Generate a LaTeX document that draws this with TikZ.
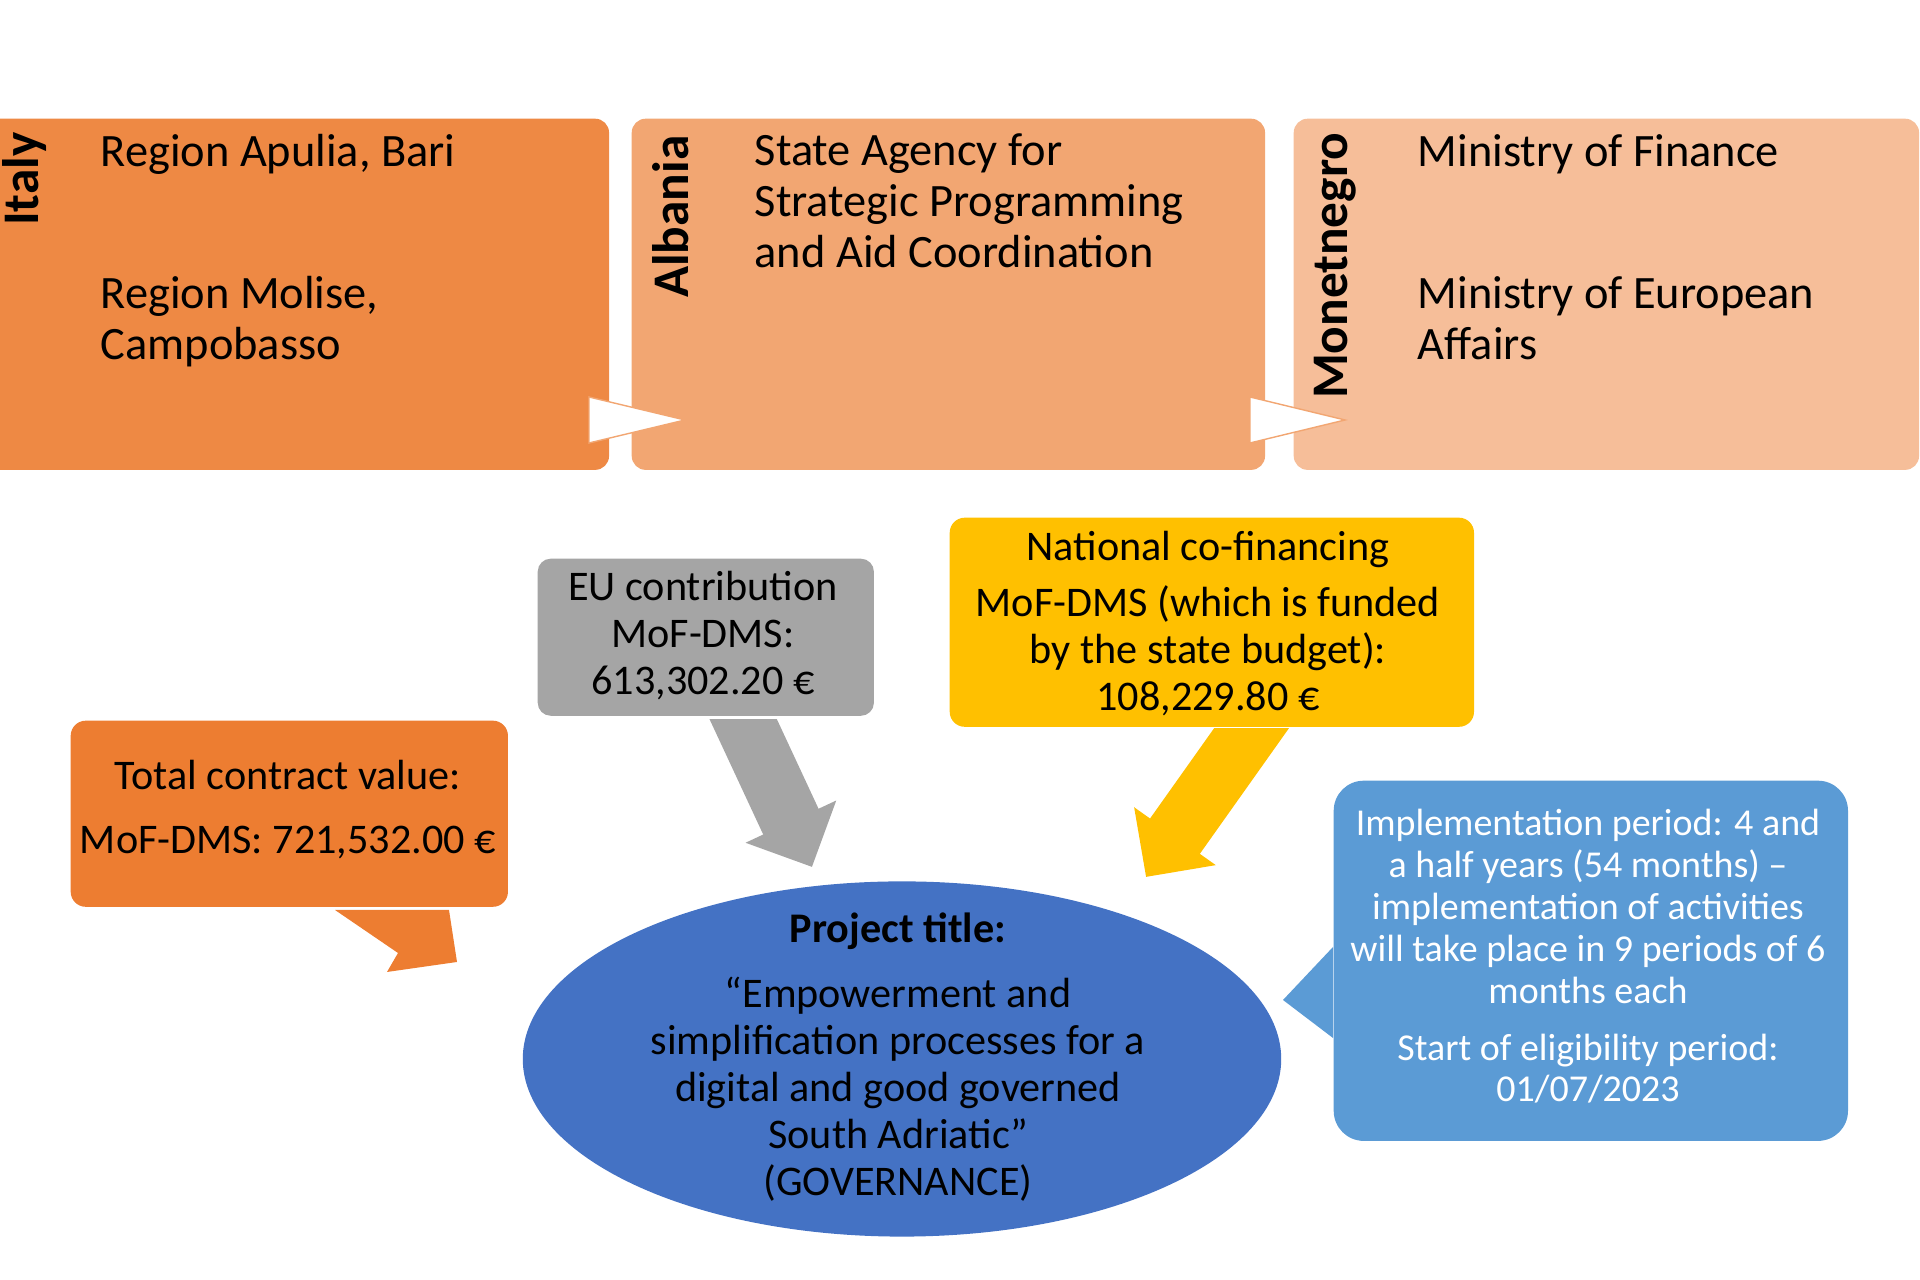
\documentclass[tikz,border=0pt]{standalone}
\usepackage{fontspec}
\setmainfont{Carlito}
\usetikzlibrary{arrows.meta,shapes.geometric}
\definecolor{italyc}{HTML}{EE8944}
\definecolor{albc}{HTML}{F2A672}
\definecolor{monc}{HTML}{F6BE99}
\definecolor{totalc}{HTML}{ED7D31}
\definecolor{grayc}{HTML}{A5A5A5}
\definecolor{yelc}{HTML}{FFC000}
\definecolor{ellc}{HTML}{4472C4}
\definecolor{bluec}{HTML}{5B9BD5}
\tikzset{
  panel/.style={rounded corners=0.14cm, minimum height=3.51cm, inner sep=0pt, anchor=north west},
  boxtxt/.style={inner sep=0pt, anchor=base west, align=left, font=\fontsize{13.2}{14.5}\selectfont},
  vlabel/.style={rotate=90, anchor=base east, inner sep=0pt, font=\fontsize{14.6}{17}\selectfont\bfseries},
  ctr/.style={inner sep=0pt, anchor=base, align=center, font=\fontsize{12}{13.4}\selectfont},
  flowtri/.style={fill=white, draw=albc, line width=0.4pt},
  blockarrow/.style={line width=0.61cm, -{Triangle[length=0.5cm, width=0.97cm]}},
}
\begin{document}
\begin{tikzpicture}[x=0.01cm, y=-0.01cm]
\useasboundingbox (0,0) rectangle (1920,1280);
% top panels
\node[panel, fill=italyc, minimum width=6.28cm] (italy) at (-20,118) {};
\node[panel, fill=albc, minimum width=6.33cm] (albania) at (631,118) {};
\node[panel, fill=monc, minimum width=6.25cm] (monte) at (1293,118) {};
\filldraw[flowtri] (589,397) -- (685,420) -- (589,443) -- cycle;
\filldraw[flowtri] (1250,397) -- (1345,420) -- (1250,443) -- cycle;
\node[vlabel] (litaly) at (38,132) {Italy};
\node[vlabel] (lalb) at (688,135) {Albania};
\node[vlabel] (lmon) at (1347,132) {Monetnegro};
% multi-line nodes: base anchor = baseline of last line
\node[boxtxt] (t1) at (100,167) {Region Apulia, Bari};
\node[boxtxt] (t2) at (100,360) {Region Molise,\\Campobasso};
\node[boxtxt] (t3) at (754,268) {State Agency for\\Strategic Programming\\and Aid Coordination};
\node[boxtxt] (t4) at (1417,167) {Ministry of Finance};
\node[boxtxt] (t5) at (1417,360) {Ministry of European\\Affairs};
% block arrows
\coordinate (gs) at (731,693);
\coordinate (gt) at (812,867);
\coordinate (ys) at (1268,705);
\coordinate (yt) at (1146,877);
\begin{scope}
\clip (0,720) rectangle (1920,1280);
\draw[blockarrow, draw=grayc, fill=grayc] (gs) -- (gt);
\end{scope}
\begin{scope}
\clip (0,729) rectangle (1920,1280);
\draw[blockarrow, draw=yelc, fill=yelc] (ys) -- (yt);
\end{scope}
% lower boxes
\node[fill=totalc, rounded corners=0.15cm, minimum width=4.37cm, minimum height=1.86cm, inner sep=0pt, anchor=north west] (total) at (70,720) {};
\fill[totalc] (335,910) -- (449,910) -- (457,962) -- (387,972) -- (398,953) -- cycle;
\node[fill=grayc, rounded corners=0.13cm, minimum width=3.36cm, minimum height=1.57cm, inner sep=0pt, anchor=north west] (eu) at (537,558) {};
\node[fill=yelc, rounded corners=0.15cm, minimum width=5.24cm, minimum height=2.09cm, inner sep=0pt, anchor=north west] (nat) at (949,517) {};
\node[fill=ellc, ellipse, minimum width=7.58cm, minimum height=3.55cm, inner sep=0pt] (proj) at (902,1059) {};
\node[fill=bluec, rounded corners=0.3cm, minimum width=5.14cm, minimum height=3.6cm, inner sep=0pt, anchor=north west] (impl) at (1333,780) {};
\fill[bluec] (1333,947) -- (1283,1000) -- (1333,1038) -- cycle;
% lower texts
\node[ctr] (ttot) at (288,854) {Total contract value:\\[4.8pt]MoF-DMS: 721,532.00~€};
\node[ctr] (teu) at (703,695) {EU contribution\\MoF-DMS:\\613,302.20~€};
\node[ctr] (tnat) at (1208,711) {National co-financing\\[2.6pt]MoF-DMS (which is funded\\by the state budget):\\108,229.80~€};
\node[ctr] (tproj) at (898,1196) {\textbf{Project title:}\\[5pt]“Empowerment and\\simplification processes for a\\digital and good governed\\South Adriatic”\\(GOVERNANCE)};
\node[ctr, text=white, font=\fontsize{10.8}{11.9}\selectfont] (timpl) at (1588,1102) {Implementation period: 4 and\\a half years (54 months) –\\implementation of activities\\will take place in 9 periods of 6\\months each\\[4.3pt]Start of eligibility period:\\01/07/2023};
\end{tikzpicture}
\end{document}
